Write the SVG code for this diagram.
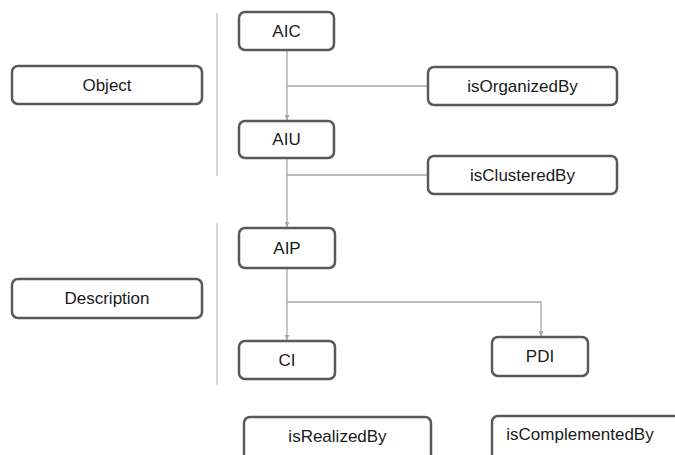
<svg xmlns="http://www.w3.org/2000/svg" width="675" height="455" viewBox="0 0 675 455">
<style>
.box{fill:#fff;stroke:#595959;stroke-width:2.5}
.t{font-family:"Liberation Sans",Arial,sans-serif;font-size:17px;fill:#1a1a1a;text-anchor:middle}
.c{fill:none;stroke:#a6a6a6;stroke-width:1.3}
.sep{stroke:#bfbfbf;stroke-width:1.3}
</style>
<defs>
<marker id="ah" markerWidth="6" markerHeight="6" refX="5" refY="3" orient="auto" markerUnits="userSpaceOnUse">
<path d="M0,0.5 L5,3 L0,5.5 Z" fill="#a6a6a6"/>
</marker>
</defs>
<g id="separators">
<line class="sep" x1="217" y1="13" x2="217" y2="176"/>
<line class="sep" x1="217" y1="223" x2="217" y2="385"/>
</g>
<g id="connectors">
<path class="c" d="M287,50 V120" marker-end="url(#ah)"/>
<path class="c" d="M287,86 H428"/>
<path class="c" d="M287,158 V227" marker-end="url(#ah)"/>
<path class="c" d="M287,175 H428"/>
<path class="c" d="M287,268 V340" marker-end="url(#ah)"/>
<path class="c" d="M287,302 H541 V336" marker-end="url(#ah)"/>
</g>
<g id="object"><rect class="box" x="12" y="66" width="190" height="38" rx="6"/><text class="t" x="107" y="91">Object</text></g>
<g id="description"><rect class="box" x="12" y="279" width="190" height="39" rx="6"/><text class="t" x="107" y="304">Description</text></g>
<g id="aic"><rect class="box" x="239" y="12" width="95" height="38" rx="6"/><text class="t" x="286.5" y="37">AIC</text></g>
<g id="aiu"><rect class="box" x="239" y="121" width="95" height="37" rx="6"/><text class="t" x="286.5" y="145">AIU</text></g>
<g id="aip"><rect class="box" x="239" y="228" width="96" height="40" rx="6"/><text class="t" x="287" y="254">AIP</text></g>
<g id="ci"><rect class="box" x="239" y="341" width="96" height="38" rx="6"/><text class="t" x="287" y="366">CI</text></g>
<g id="pdi"><rect class="box" x="492" y="337" width="96" height="39" rx="6"/><text class="t" x="540" y="362">PDI</text></g>
<g id="isOrganizedBy"><rect class="box" x="428" y="67" width="189" height="38" rx="6"/><text class="t" x="522.5" y="92">isOrganizedBy</text></g>
<g id="isClusteredBy"><rect class="box" x="428" y="156" width="189" height="38" rx="6"/><text class="t" x="522.5" y="181">isClusteredBy</text></g>
<g id="isRealizedBy"><rect class="box" x="244" y="417" width="187" height="45" rx="6"/><text class="t" x="337.5" y="442">isRealizedBy</text></g>
<g id="isComplementedBy"><rect class="box" x="492" y="416" width="200" height="46" rx="6"/><text class="t" x="580" y="440">isComplementedBy</text></g>
</svg>
